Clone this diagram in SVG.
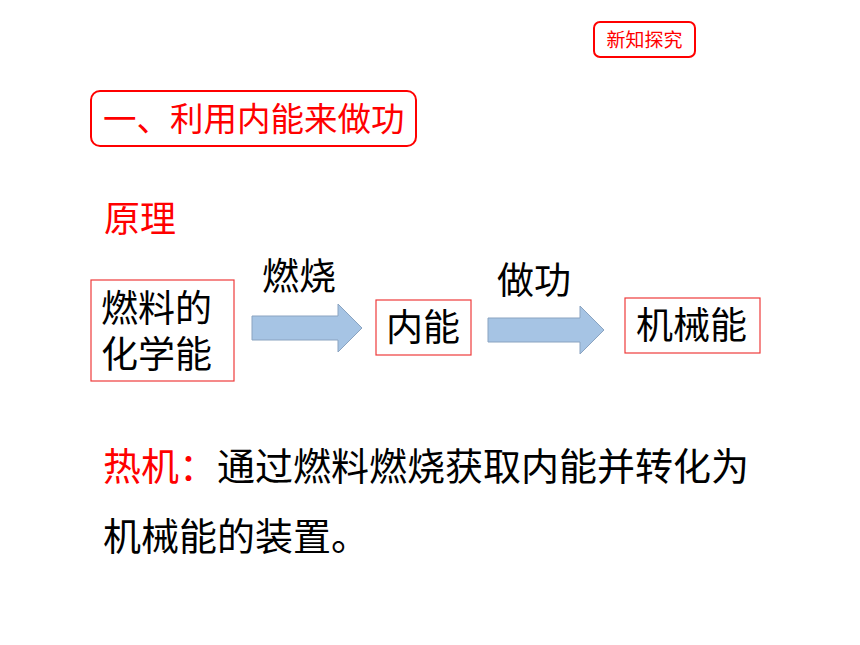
<svg xmlns="http://www.w3.org/2000/svg" width="860" height="645" viewBox="0 0 860 645">
<style>
.t{font-family:"Noto Sans CJK SC","Noto Sans",sans-serif}
.red{fill:#ff0000}
.blk{fill:#000000}
.box{fill:#ffffff;stroke:#ee3b3b;stroke-width:1.2}
.rbox{fill:#ffffff;stroke:#ff0000;stroke-width:2}
.arrow{fill:#a6c4e4;stroke:#8aa3c0;stroke-width:1}
</style>
<rect width="860" height="645" fill="#ffffff"/>
<g id="tag">
<rect class="rbox" x="594" y="22" width="101" height="35" rx="6"/>
<text class="t red" x="644.5" y="47" font-size="19" text-anchor="middle">新知探究</text>
</g>
<g id="title">
<rect class="rbox" x="91" y="91" width="325" height="55" rx="9"/>
<text class="t red" x="103" y="131" font-size="33.5">一、利用内能来做功</text>
</g>
<g id="principle">
<text class="t red" x="104" y="232" font-size="36">原理</text>
</g>
<g id="node-fuel">
<rect class="box" x="91" y="280" width="143" height="101"/>
<text class="t blk" font-size="37"><tspan x="101" y="322">燃料的</tspan><tspan x="101" y="368">化学能</tspan></text>
</g>
<g id="node-internal">
<rect class="box" x="376" y="300" width="95" height="55"/>
<text class="t blk" x="386" y="341" font-size="37">内能</text>
</g>
<g id="node-mech">
<rect class="box" x="625" y="298" width="135" height="55"/>
<text class="t blk" x="636" y="339" font-size="37">机械能</text>
</g>
<g id="connectors">
<polygon class="arrow" points="252,316 338,316 338,304 362,328 338,352 338,340 252,340"/>
<text class="t blk" x="262" y="290" font-size="37">燃烧</text>
<polygon class="arrow" points="488,318 580,318 580,306 604,330 580,354 580,342 488,342"/>
<text class="t blk" x="497" y="294" font-size="37">做功</text>
</g>
<g id="definition">
<text class="t" x="103" y="480" font-size="38"><tspan class="red">热机：</tspan><tspan class="blk">通过燃料燃烧获取内能并转化为</tspan></text>
<text class="t blk" x="103" y="550" font-size="38">机械能的装置。</text>
</g>
</svg>
